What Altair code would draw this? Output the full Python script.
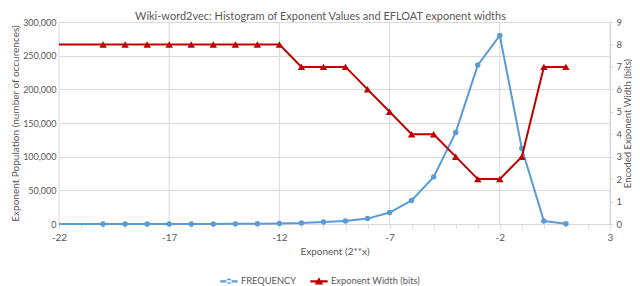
import altair as alt
import pandas as pd

# ---- data ----
exponents = list(range(-20, 2))
frequency = [0, 0, 0, 0, 0, 100, 200, 400, 800, 1500, 3000, 4500, 8000, 17000,
             35000, 70000, 136000, 236000, 280000, 112000, 4500, 300]
exponent_width = [8, 8, 8, 8, 8, 8, 8, 8, 8, 7, 7, 7, 6, 5, 4, 4, 3, 2, 2, 3, 7, 7]
# the lines continue to the left edge of the plot without markers
lead_in_exponent = [-22]
lead_in_frequency = [0]
lead_in_width = [8]

x_major_ticks = [-22, -17, -12, -7, -2, 3]
x_minor_ticks = list(range(-22, 4))
y_left_ticks = [0, 50000, 100000, 150000, 200000, 250000, 300000]
y_right_ticks = list(range(0, 10))
series_names = ["FREQUENCY", "Exponent Width (bits)"]
series_colors = ["#5B9BD5", "#C00000"]
legend_paths = [
    "M-1,-0.12H1V0.12H-1Z M-0.32,0A0.32,0.32 0 1,0 0.32,0A0.32,0.32 0 1,0 -0.32,0Z",
    "M-1,-0.12H1V0.12H-1Z M-0.48,0.36L0,-0.46L0.48,0.36Z",
]

FONT = "Lato"
TEXT = "#595959"
GRID = "#D9D9D9"
W, H = 551, 202

points = pd.DataFrame({"exponent": exponents, "frequency": frequency, "width": exponent_width})
lines = pd.concat([
    pd.DataFrame({"exponent": lead_in_exponent, "frequency": lead_in_frequency, "width": lead_in_width}),
    points], ignore_index=True)

x_scale = alt.Scale(domain=[-22, 3], nice=False, zero=False)
x_axis = alt.Axis(values=x_minor_ticks,
                  labelExpr="(datum.value + 22) % 5 == 0 ? '' + datum.value : ''",
                  grid=False, domain=True, domainColor=GRID, ticks=True, tickColor=GRID,
                  tickSize=4, labelPadding=4, labelFlush=False,
                  title="Exponent (2**x)", titlePadding=4)

left_scale = alt.Scale(domain=[0, 300000], nice=False, zero=True)
left_axis = alt.Axis(values=y_left_ticks, labelExpr="format(datum.value, ',')",
                     grid=True, gridColor=GRID, domain=False, labelFlush=False,
                     ticks=False, labelPadding=3, labelFontSize=9,
                     title="Exponent Population (number of occurences)", titlePadding=2)
right_scale = alt.Scale(domain=[0, 9], nice=False, zero=True)
right_axis = alt.Axis(values=y_right_ticks, orient="right", grid=False, domain=True,
                      domainColor=GRID, ticks=True, tickColor=GRID, tickSize=3, labelPadding=3,
                      labelFlush=False, labelFontSize=9.5, titleFontSize=9.5,
                      title="Encoded Exponent Width (bits)", titleAngle=270,
                      titleBaseline="top", titlePadding=1)

grid = alt.Chart(pd.DataFrame({"exponent": x_major_ticks})).mark_rule(color=GRID, strokeWidth=1).encode(
    x=alt.X("exponent:Q", scale=x_scale, axis=x_axis), y=alt.value(0), y2=alt.value(H))

blue_line = alt.Chart(lines).mark_line(color=series_colors[0], strokeWidth=2).encode(
    x=alt.X("exponent:Q", scale=x_scale, axis=x_axis),
    y=alt.Y("frequency:Q", scale=left_scale, axis=left_axis))
blue_pts = alt.Chart(points).mark_point(shape="circle", filled=True, opacity=1, size=30,
                                        color=series_colors[0]).encode(
    x=alt.X("exponent:Q", scale=x_scale, axis=x_axis),
    y=alt.Y("frequency:Q", scale=left_scale, axis=left_axis))
blue = alt.layer(blue_line, blue_pts)

red_line = alt.Chart(lines).mark_line(color=series_colors[1], strokeWidth=2).encode(
    x=alt.X("exponent:Q", scale=x_scale, axis=x_axis),
    y=alt.Y("width:Q", scale=right_scale, axis=right_axis))
red_pts = alt.Chart(points).mark_point(shape="triangle-up", filled=True, opacity=1, size=55,
                                       color=series_colors[1]).encode(
    x=alt.X("exponent:Q", scale=x_scale, axis=x_axis),
    y=alt.Y("width:Q", scale=right_scale, axis=right_axis))
red = alt.layer(red_line, red_pts)

legend_kw = dict(orient="none", legendX=161, legendY=250, direction="horizontal", title=None,
                 symbolSize=300, symbolStrokeWidth=0, symbolOpacity=1, labelOffset=3,
                 columnPadding=13, columns=2, padding=0, labelFont=FONT, labelFontSize=9.3,
                 labelColor=TEXT)
legend_layer = alt.Chart(pd.DataFrame({"series": series_names})).transform_filter(
    "false").mark_point(filled=True).encode(
    color=alt.Color("series:N", scale=alt.Scale(domain=series_names, range=series_colors),
                    legend=alt.Legend(**legend_kw)),
    shape=alt.Shape("series:N", scale=alt.Scale(domain=series_names, range=legend_paths),
                    legend=alt.Legend(**legend_kw)))

chart = alt.layer(grid, blue, red, legend_layer).resolve_scale(y="independent").properties(
    width=W, height=H,
    autosize=alt.AutoSizeParams(type="none"),
    padding={"left": 51, "top": 14, "right": 22, "bottom": 62},
    title=alt.TitleParams(text="Wiki-word2vec: Histogram of Exponent Values and EFLOAT exponent widths",
                          font=FONT, fontSize=11, fontWeight="normal", color=TEXT,
                          anchor="middle", frame="group", dx=-14, offset=-5),
).configure_view(stroke=None).configure_axis(
    labelFont=FONT, titleFont=FONT, labelFontSize=10, titleFontSize=10,
    labelColor=TEXT, titleColor=TEXT, titleFontWeight="normal")

chart.save("out.html", embed_options={"renderer": "svg", "actions": False})
